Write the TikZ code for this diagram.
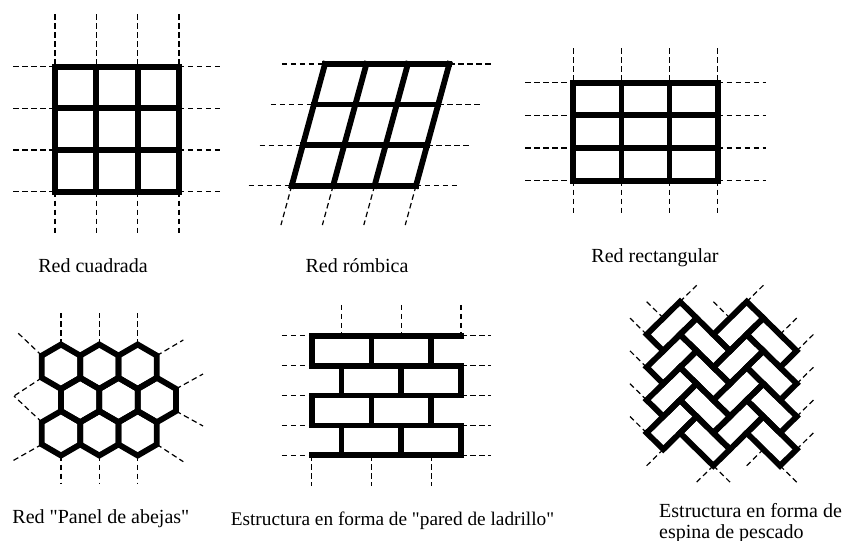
\documentclass[tikz,border=0pt]{standalone}
\usepackage{fontspec}
\setmainfont[Ligatures=TeXOff]{Liberation Serif}
\begin{document}
\begin{tikzpicture}[x=1pt,y=-1pt,
  thickl/.style={line width=5.8pt, line join=miter, line cap=rect},
  dashl/.style={line width=1.2pt, dash pattern=on 5.5pt off 3.5pt},
  lbl/.style={font=\fontsize{20}{23}\selectfont, inner sep=0pt, anchor=base}]
\useasboundingbox (0,0) rectangle (849,541);

% ---------- Panel 1: square lattice ----------
\begin{scope}[shift={(55,66.7)}, x=41.33pt, y=-41.67pt]
  \foreach \i in {0,...,3} {
    \draw[dashl] (\i,-1.26) -- (\i,0);
    \draw[dashl] (\i,3) -- (\i,3.99);
    \draw[dashl] (-1.01,\i) -- (0,\i);
    \draw[dashl] (3,\i) -- (4.01,\i);
  }
  \foreach \i in {0,...,3} {
    \draw[thickl] (\i,0) -- (\i,3);
    \draw[thickl] (0,\i) -- (3,\i);
  }
\end{scope}

% ---------- Panel 2: rhombic lattice ----------
\begin{scope}[shift={(325,64)}, x={(41.43pt,0pt)}, y={(-11.1pt,-40.57pt)}]
  \foreach \i in {0,...,3} {
    \draw[dashl] (-1.04,\i) -- (0,\i);
    \draw[dashl] (3,\i) -- (4.02,\i);
    \draw[dashl] (\i,3) -- (\i,3.97);
  }
  \foreach \i in {0,...,3} {
    \draw[thickl] (\i,0) -- (\i,3);
    \draw[thickl] (0,\i) -- (3,\i);
  }
\end{scope}

% ---------- Panel 3: rectangular lattice ----------
\begin{scope}[shift={(573.3,82.7)}, x=48.13pt, y=-32.67pt]
  \foreach \i in {0,...,3} {
    \draw[dashl] (\i,-1.05) -- (\i,0);
    \draw[dashl] (\i,3) -- (\i,4.02);
    \draw[dashl] (-1,\i) -- (0,\i);
    \draw[dashl] (3,\i) -- (4,\i);
  }
  \foreach \i in {0,...,3} {
    \draw[thickl] (\i,0) -- (\i,3);
    \draw[thickl] (0,\i) -- (3,\i);
  }
\end{scope}

% ---------- Panel 4: honeycomb ----------
\foreach \x in {61,99.33,137.67} {
  \draw[dashl] (\x,344.5) -- (\x,313);
  \draw[dashl] (\x,455.5) -- (\x,484);
}
\draw[dashl] (41.83,355.6) -- (18.3,333.3);
\draw[dashl] (156.83,355.6) -- (183.3,340);
\draw[dashl] (41.83,377.8) -- (14,396);
\draw[dashl] (41.83,422.2) -- (14,396);
\draw[dashl] (176,388.9) -- (203,374);
\draw[dashl] (176,411.1) -- (203,426);
\draw[dashl] (156.83,444.4) -- (183.3,461.7);
\draw[dashl] (41.83,444.4) -- (13.3,460.5);
\foreach \cx/\cy in {61/366.7, 99.33/366.7, 137.67/366.7,
                     80.17/400, 118.5/400, 156.83/400,
                     61/433.3, 99.33/433.3, 137.67/433.3} {
  \draw[thickl] (\cx,\cy) +(0,-22.2) -- +(19.17,-11.1) -- +(19.17,11.1)
     -- +(0,22.2) -- +(-19.17,11.1) -- +(-19.17,-11.1) -- cycle;
}

% ---------- Panel 5: brick wall ----------
\begin{scope}[shift={(311.7,335.7)}, x=29.87pt, y=-29.9pt]
  \foreach \r in {0,...,4} {
    \draw[dashl] (-1,\r) -- (0,\r);
    \draw[dashl] (5,\r) -- (6,\r);
  }
  \foreach \i in {1,3,5} \draw[dashl] (\i,-1.03) -- (\i,0);
  \foreach \i in {0,2,4} \draw[dashl] (\i,4) -- (\i,5.03);
  \foreach \r in {0,...,4} \draw[thickl] (0,\r) -- (5,\r);
  \foreach \r in {0,2} \foreach \i in {0,2,4} \draw[thickl] (\i,\r) -- (\i,\r+1);
  \foreach \r in {1,3} \foreach \i in {1,3,5} \draw[thickl] (\i,\r) -- (\i,\r+1);
\end{scope}

% ---------- Panel 6: herringbone ----------
\begin{scope}[shift={(680,301.7)}, x={(16.67pt,-16.4pt)}, y={(-16.67pt,-16.4pt)}]
  \foreach \a/\b/\c/\d in {-1/1/0/1, 0/0/0/-1, 1/-1/2/-1, 2/-2/2/-3, 4/-2/4/-3,
      5/-2/5/-3, 6/-1/6/-2, 7/0/7/-1, 8/1/8/0,
      0/2/-1/2, 1/3/0/3, 2/4/1/4, 3/5/2/5,
      4/5/4/6, 6/4/6/5, 6/4/7/4, 7/2/7/3, 8/2/9/2}
    \draw[dashl] (\a,\b) -- (\c,\d);
  \foreach \k in {0,1} \foreach \n in {0,...,3} {
    \pgfmathtruncatemacro\vx{\n+2*\k}
    \pgfmathtruncatemacro\vy{\n-2*\k}
    \pgfmathtruncatemacro\hx{\n+2*\k+1}
    \draw[thickl] (\vx,\vy) -- ++(1,0) -- ++(0,2) -- ++(-1,0) -- cycle;
    \draw[thickl] (\hx,\vy) -- ++(2,0) -- ++(0,1) -- ++(-2,0) -- cycle;
  }
\end{scope}

% ---------- Labels ----------
\node[lbl] (lsq) at (93,272) {Red cuadrada};
\node[lbl] (lrh) at (357,272) {Red rómbica};
\node[lbl] (lre) at (655,262) {Red rectangular};
\node[lbl, anchor=base west] (lho) at (12.3,523) {Red "Panel de abejas"};
\node[lbl, font=\fontsize{19.3}{23}\selectfont] (lbr) at (392.5,525) {Estructura en forma de "pared de ladrillo"};
\node[lbl, anchor=base west] (lhe1) at (659,517) {Estructura en forma de};
\node[lbl, anchor=base west] (lhe2) at (659,538) {espina de pescado};
\end{tikzpicture}
\end{document}
